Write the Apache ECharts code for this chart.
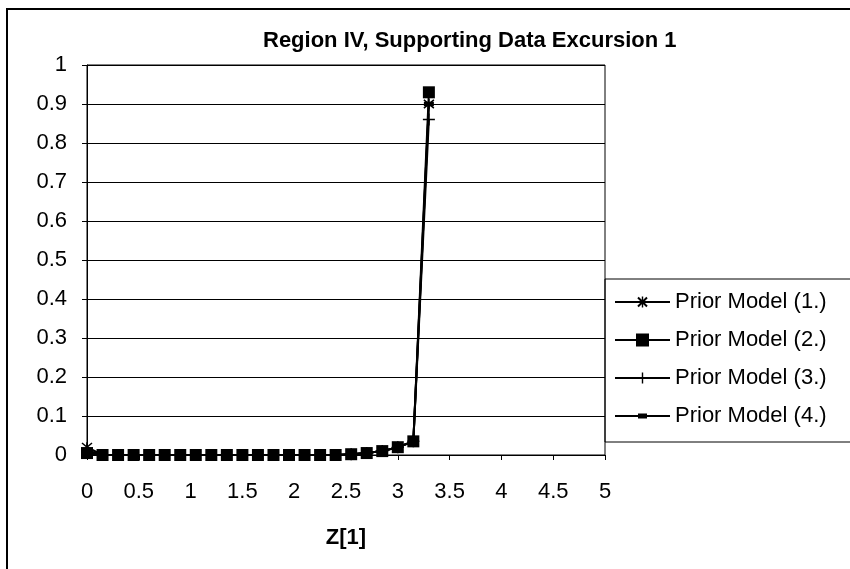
<!DOCTYPE html>
<html>
<head>
<meta charset="utf-8">
<script src="https://cdn.jsdelivr.net/npm/echarts@6/dist/echarts.min.js"></script>
<style>
html,body{margin:0;padding:0;background:#fff;}
#c{width:850px;height:569px;}
</style>
</head>
<body>
<div id="c"></div>
<script>
// ---- data ----
var zValues = [0, 0.15, 0.3, 0.45, 0.6, 0.75, 0.9, 1.05, 1.2, 1.35, 1.5, 1.65, 1.8, 1.95, 2.1, 2.25, 2.4, 2.55, 2.7, 2.85, 3.0, 3.15, 3.3];
var model1 = [0.02, 0, 0, 0, 0, 0, 0, 0, 0, 0, 0, 0, 0, 0, 0, 0, 0, 0.002, 0.005, 0.01, 0.02, 0.035, 0.9];
var model2 = [0.005, 0, 0, 0, 0, 0, 0, 0, 0, 0, 0, 0, 0, 0, 0, 0, 0, 0.002, 0.005, 0.01, 0.02, 0.035, 0.93];
var model3 = [0.012, 0, 0, 0, 0, 0, 0, 0, 0, 0, 0, 0, 0, 0, 0, 0, 0, 0.002, 0.005, 0.01, 0.02, 0.035, 0.86];
var model4 = [0.005, 0, 0, 0, 0, 0, 0, 0, 0, 0, 0, 0, 0, 0, 0, 0, 0, 0.002, 0.005, 0.01, 0.02, 0.035, 0.9];
var seriesNames = ['Prior Model (1.)', 'Prior Model (2.)', 'Prior Model (3.)', 'Prior Model (4.)'];
var xTickLabels = ['0', '0.5', '1', '1.5', '2', '2.5', '3', '3.5', '4', '4.5', '5'];
var yTickLabels = ['0', '0.1', '0.2', '0.3', '0.4', '0.5', '0.6', '0.7', '0.8', '0.9', '1'];
var titleText = 'Region IV, Supporting Data Excursion 1';
var xAxisTitle = 'Z[1]';

function pairs(xs, ys) {
  var out = [];
  for (var i = 0; i < xs.length; i++) out.push([xs[i], ys[i]]);
  return out;
}

var FONT = '"Liberation Sans", Arial, sans-serif';
// plot markers
var starPath = 'path://M0,0L10,10M10,0L0,10M5,-1L5,11';
var plusPath = 'path://M5,0L5,10M0,5L10,5';
var dashPath = 'path://M0,0L10,0L10,4.5L0,4.5Z';
// legend icons (line + marker) in a 55 x 16 box
var BOX = 'M0,0M55,16';
var LINE = 'M0,7L55,7L55,9L0,9Z';
var legendIcons = [
  'path://' + BOX + LINE +
    'M26.8,2.5L28.2,2.5L28.2,13.5L26.8,13.5Z' +
    'M22.3,4.2L23.7,2.8L32.7,11.8L31.3,13.2Z' +
    'M31.3,2.8L32.7,4.2L23.7,13.2L22.3,11.8Z',
  'path://' + BOX + LINE + 'M21,1.5L34,1.5L34,14.5L21,14.5Z',
  'path://' + BOX + LINE + 'M26.8,2.5L28.2,2.5L28.2,13.5L26.8,13.5Z',
  'path://' + BOX + LINE + 'M23,5.5L32,5.5L32,10.5L23,10.5Z'
];
var legendData = seriesNames.map(function (n, i) {
  return {name: n, icon: legendIcons[i], itemStyle: {color: '#000', borderWidth: 0}};
});

var chart = echarts.init(document.getElementById('c'), null, {renderer: 'canvas'});
var option = {
  backgroundColor: '#fff',
  animation: false,
  title: {
    text: titleText,
    left: 258,
    top: 25,
    textStyle: {fontFamily: FONT, fontSize: 22, fontWeight: 'bold', color: '#000'}
  },
  graphic: [{
    type: 'rect',
    shape: {x: 7, y: 9, width: 900, height: 600},
    style: {fill: 'none', stroke: '#000', lineWidth: 2},
    silent: true,
    z: -1
  }],
  grid: {
    left: 87, right: 245, top: 65, bottom: 114,
    show: true, borderColor: '#000', borderWidth: 1, backgroundColor: 'transparent'
  },
  legend: {
    orient: 'vertical',
    left: 605,
    top: 279,
    data: legendData,
    itemWidth: 55,
    itemHeight: 16,
    itemGap: 16,
    padding: [12, 40, 15, 10],
    borderColor: '#000',
    borderWidth: 1,
    textStyle: {fontFamily: FONT, fontSize: 22, color: '#000'}
  },
  xAxis: {
    type: 'value',
    min: 0, max: 5, interval: 0.5,
    name: xAxisTitle,
    nameLocation: 'middle',
    nameGap: 72,
    nameTextStyle: {fontFamily: FONT, fontSize: 22, fontWeight: 'bold', color: '#000'},
    axisLine: {show: true, onZero: false, lineStyle: {color: '#000', width: 1}},
    axisTick: {show: true, length: 5, lineStyle: {color: '#000'}},
    axisLabel: {
      margin: 26, fontFamily: FONT, fontSize: 22, color: '#000',
      formatter: function (v) { return xTickLabels[Math.round(v / 0.5)]; }
    },
    splitLine: {show: false}
  },
  yAxis: {
    type: 'value',
    min: 0, max: 1, interval: 0.1,
    axisLine: {show: true, lineStyle: {color: '#000', width: 1}},
    axisTick: {show: true, length: 5, lineStyle: {color: '#000'}},
    axisLabel: {
      margin: 20, fontFamily: FONT, fontSize: 22, color: '#000',
      formatter: function (v) { return yTickLabels[Math.round(v / 0.1)]; }
    },
    splitLine: {show: true, lineStyle: {color: '#000', width: 1}}
  },
  series: [
    {
      name: seriesNames[0], type: 'line', data: pairs(zValues, model1),
      symbol: starPath, symbolSize: 10,
      lineStyle: {color: '#000', width: 2},
      itemStyle: {color: '#000', borderColor: '#000', borderWidth: 1.5}
    },
    {
      name: seriesNames[1], type: 'line', data: pairs(zValues, model2),
      symbol: 'rect', symbolSize: 12,
      lineStyle: {color: '#000', width: 2},
      itemStyle: {color: '#000'}
    },
    {
      name: seriesNames[2], type: 'line', data: pairs(zValues, model3),
      symbol: plusPath, symbolSize: 12,
      lineStyle: {color: '#000', width: 2},
      itemStyle: {color: '#000', borderColor: '#000', borderWidth: 1.5}
    },
    {
      name: seriesNames[3], type: 'line', data: pairs(zValues, model4),
      symbol: dashPath, symbolSize: 10, symbolKeepAspect: true,
      lineStyle: {color: '#000', width: 2},
      itemStyle: {color: '#000'}
    }
  ]
};
chart.setOption(option);
</script>
</body>
</html>
